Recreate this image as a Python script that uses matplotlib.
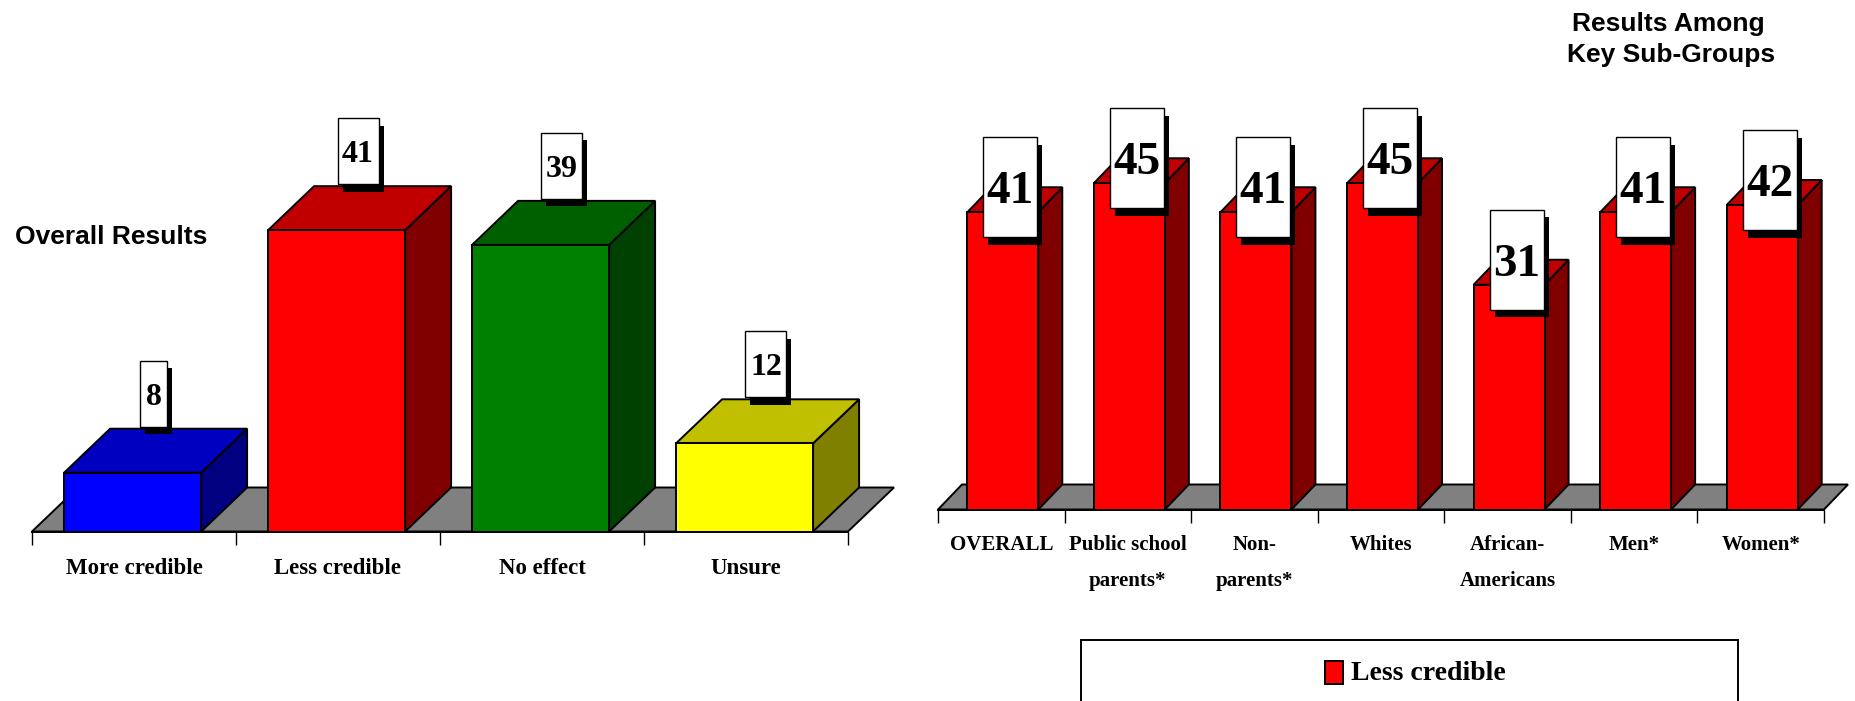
import matplotlib
matplotlib.use("Agg")
import matplotlib.pyplot as plt
from matplotlib.patches import Polygon, Rectangle

W, H = 1856, 701

overall_cats = ["More credible", "Less credible", "No effect", "Unsure"]
overall_vals = [8, 41, 39, 12]
overall_cols = [("#0000FF", "#0000C0", "#000080"),
                ("#FF0000", "#C00000", "#800000"),
                ("#008000", "#006000", "#004000"),
                ("#FFFF00", "#C0C000", "#808000")]

group_cats = ["OVERALL", "Public school\nparents*", "Non-\nparents*", "Whites",
              "African-\nAmericans", "Men*", "Women*"]
group_vals = [41, 45, 41, 45, 31, 41, 42]
group_col = ("#FF0000", "#C00000", "#800000")

LW = 1.4
SERIF = "Liberation Serif"


def chart(left, right, base, px_unit, cats, vals, cols, bar_px, bar_shift, dep, box, lab_size, val_size, pad, val_dy):
    n = len(cats)
    cat_px = (right - left) / n
    # axes sits on the floor's front edge, one x unit is one category
    ax = fig.add_axes([left / W, (H - base) / H, (right - left) / W, 55 * px_unit / H])
    ax.set_xlim(-0.5, n - 0.5)
    ax.set_ylim(0, 55)
    ax.patch.set_visible(False)
    for s in ["left", "right", "top"]:
        ax.spines[s].set_visible(False)
    ax.spines["bottom"].set_linewidth(LW)
    ax.yaxis.set_visible(False)

    dx = dep[0] / cat_px
    dy = dep[1] / px_unit
    w = bar_px / cat_px
    ax.add_patch(Polygon([(-0.5, 0), (-0.5 + dx, dy), (n - 0.5 + dx, dy), (n - 0.5, 0)],
                         fc="#808080", ec="black", lw=LW, clip_on=False, zorder=1))
    for i, v in enumerate(vals):
        front, top, side = cols[i]
        x0 = i - w / 2 + bar_shift / cat_px
        x1 = x0 + w
        ax.add_patch(Polygon([(x1, 0), (x1 + dx, dy), (x1 + dx, v + dy), (x1, v)],
                             fc=side, ec="black", lw=LW, clip_on=False, zorder=2))
        ax.add_patch(Polygon([(x0, v), (x0 + dx, v + dy), (x1 + dx, v + dy), (x1, v)],
                             fc=top, ec="black", lw=LW, clip_on=False, zorder=2))
        ax.add_patch(Rectangle((x0, 0), w, v, fc=front, ec="black", lw=LW, clip_on=False, zorder=2))

    ax.set_xticks([k - 0.5 for k in range(n + 1)])
    ax.set_xticklabels([])
    ax.tick_params(axis="x", which="major", length=13 * 0.72, width=1.0)
    ax.set_xticks(range(n), minor=True)
    ax.set_xticklabels(cats, minor=True, family=SERIF, weight="bold", size=lab_size, linespacing=2.1)
    ax.tick_params(axis="x", which="minor", length=0, pad=pad)

    # value flags with their drop shadow
    for i, v in enumerate(vals):
        bw = box[0](v) / cat_px
        bh = box[1] / px_unit
        cx = i + dx / 2 - 3 / cat_px
        y0 = v + dy - val_dy / px_unit
        ax.add_patch(Rectangle((cx - bw / 2 + 5 / cat_px, y0 - 7.5 / px_unit), bw, bh,
                               fc="black", ec="none", clip_on=False, zorder=3))
        ax.add_patch(Rectangle((cx - bw / 2, y0), bw, bh, fc="white", ec="black", lw=1.0,
                               clip_on=False, zorder=4))
        ax.text(cx, y0 + bh / 2, str(v), ha="center", va="center_baseline", family=SERIF,
                weight="bold", size=val_size, zorder=5)
    return ax


fig = plt.figure(figsize=(W / 100, H / 100), dpi=100, facecolor="white")

chart(32, 848, 531.5, 7.35, overall_cats, overall_vals, overall_cols, 137, -1.4, (46, 44),
      (lambda v: 27 if v < 10 else 41, 66), 16.5, 23, 19, -2)
chart(938, 1824, 509.5, 7.25, group_cats, group_vals, [group_col] * 7, 71, 1.5, (24, 25),
      (lambda v: 54, 100), 15, 34, 18, 50)

fig.text(15 / W, 1 - 237 / H, "Overall Results", family="Liberation Sans", weight="bold",
         size=19, ha="left", va="center")
fig.text(1668 / W, 1 - 23.5 / H, "Results Among", family="Liberation Sans", weight="bold",
         size=19, ha="center", va="center")
fig.text(1671 / W, 1 - 55 / H, "Key Sub-Groups", family="Liberation Sans", weight="bold",
         size=19, ha="center", va="center")

# legend box runs off the bottom of the picture
fig.add_artist(Rectangle((1081 / W, -0.02), 657 / W, 0.02 + (H - 640) / H, transform=fig.transFigure,
                         fc="white", ec="black", lw=LW))
fig.add_artist(Rectangle((1325 / W, 1 - 684 / H), 18 / W, 23 / H, transform=fig.transFigure,
                         fc="#FF0000", ec="black", lw=LW))
fig.text(1351 / W, 1 - 673 / H, "Less credible", family=SERIF, weight="bold", size=20,
         ha="left", va="center")

fig.savefig("out.png", dpi=100)
